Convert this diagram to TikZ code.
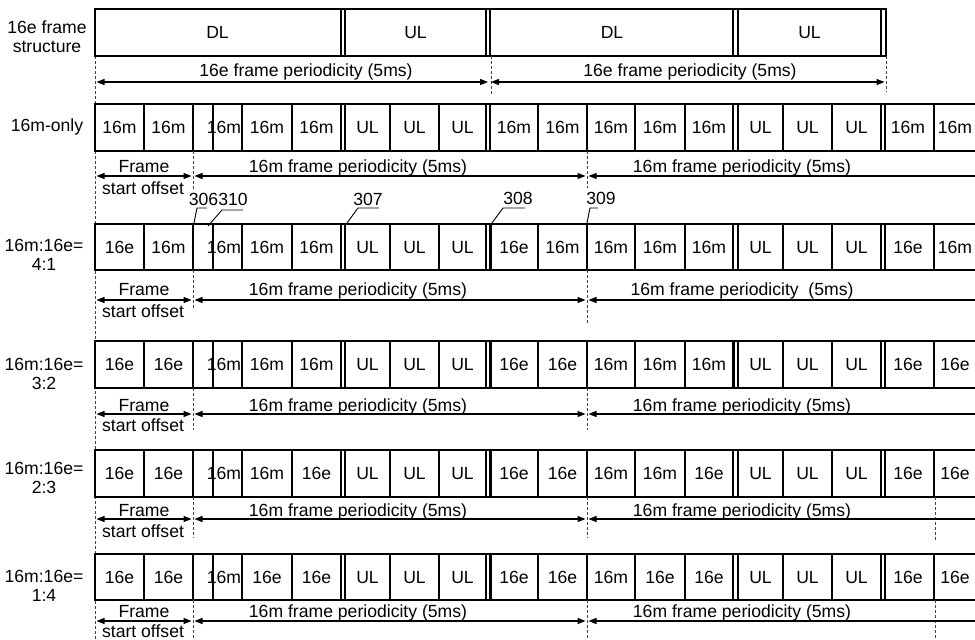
\documentclass[tikz,border=0pt]{standalone}
\usepackage{fontspec}
\setmainfont{Liberation Sans}
\usepackage{xcolor}
\definecolor{ColBlack}{RGB}{0,0,0}
\usepackage{tikz}
\usetikzlibrary{arrows.meta}
\tikzstyle{Txt}=[inner sep=0pt,font=\fontsize{17.6}{20}\selectfont,
    text height=12.6pt,text depth=0pt]
\tikzstyle{SideTxt}=[inner sep=0pt,font=\fontsize{17.6}{19}\selectfont,
    align=center]
\tikzstyle{Frame}=[ColBlack!100,draw,line width=1.2pt]
\tikzstyle{Guide}=[ColBlack!75,draw,line width=0.5pt,
    dash pattern=on 3pt off 2pt]
\tikzstyle{Leader}=[ColBlack!100,draw,line width=0.9pt]
\tikzstyle{Period}=[ColBlack!100,draw,line width=1.2pt,
    shorten <=1.5pt,shorten >=1.5pt,
    {Triangle[length=8pt,width=6pt]}-{Triangle[length=8pt,width=6pt]}]
% one row of slots: top, bottom, width of the bar before the second DL
\newcommand{\RowBox}[3]{%
    \draw[Frame](990,#1)--(95,#1)--(95,#2)--(990,#2);
    \foreach \Bx in {144,193,213,242,292,341,345,390,439,486,538,587,
        635,685,733,738,783,832,881,885,934}
        {\draw[Frame](\Bx,#1)--(\Bx,#2);}
    \draw[Frame,line width=#3](490,#1)--(490,#2);}
% slot texts: name, middle y, texts
\newcommand{\CellRow}[3]{%
    \foreach \Lab [count=\i from 0] in {#3}{
        \pgfmathsetmacro{\Cx}{{119.5,168.5,224,267,316.5,367.5,414.5,462.5,514,562.5,611,660,709,760.5,807.5,856.5,908,955}[\i]}
        \node[Txt](#1-\i)at(\Cx,#2){\Lab};}}
% offset and periodicity arrows: name, arrow y, upper text y, lower text y, second text
\newcommand{\PeriodRow}[5]{%
    \coordinate(#1a)at(95,#2);
    \coordinate(#1b)at(193,#2);
    \coordinate(#1c)at(587,#2);
    \coordinate(#1d)at(1000,#2);
    \draw[Period](#1a)--(#1b);
    \draw[Period](#1b)--(#1c);
    \draw[Period](#1c)--(#1d);
    \node[Txt](#1Fr)at(144,#3){Frame};
    \node[Txt](#1So)at(143,#4){start offset};
    \node[Txt](#1P1)at(358,#3){16m frame periodicity (5ms)};
    \node[Txt](#1P2)at(742,#3){#5};}
\newcommand{\Guides}[3]{%
    \draw[Guide](193,#1)--(193,#2);
    \draw[Guide](587,#1)--(587,#3);}

\begin{document}
\begin{tikzpicture}[x=1pt,y=-1pt]
    \useasboundingbox(0,0)rectangle(975,640);
    \clip(0,0)rectangle(975,640);
    \draw[Guide](95,56)--(95,640);
    % 16e frame structure
    \draw[Frame](95,9)rectangle(886,56);
    \foreach \Bx in {341,345,486,733,738,881}
        {\draw[Frame](\Bx,9)--(\Bx,56);}
    \draw[Frame,line width=1.8pt](490,9)--(490,56);
    \node[Txt](DL1)at(217.5,32.5){DL};
    \node[Txt](UL1)at(415.5,32.5){UL};
    \node[Txt](DL2)at(612,32.5){DL};
    \node[Txt](UL2)at(809.5,32.5){UL};
    \draw[Guide](491,56)--(491,95);
    \draw[Guide](886,56)--(886,92);
    \coordinate(Ea)at(95,82);
    \coordinate(Eb)at(489.5,82);
    \coordinate(Ec)at(886,82);
    \draw[Period](Ea)--(Eb);
    \draw[Period](Eb)--(Ec);
    \node[Txt](E1)at(306,70){16e frame periodicity (5ms)};
    \node[Txt](E2)at(690,70){16e frame periodicity (5ms)};
    % row labels
    \node[SideTxt](S0)at(47,37){16e frame\\structure};
    \node[SideTxt](S1)at(47,127){16m-only};
    \node[SideTxt](S2)at(44,255){16m:16e=\\4:1};
    \node[SideTxt](S3)at(44,374){16m:16e=\\3:2};
    \node[SideTxt](S4)at(44,478){16m:16e=\\2:3};
    \node[SideTxt](S5)at(44,586){16m:16e=\\1:4};
    % 16m-only
    \RowBox{104}{151}{1.8pt}
    \CellRow{R1}{127.5}{16m,16m,16m,16m,16m,UL,UL,UL,16m,16m,16m,16m,16m,UL,UL,UL,16m,16m}
    \Guides{151}{190}{188}
    \PeriodRow{R1}{176}{166}{188}{16m frame periodicity (5ms)}
    % 4:1
    \RowBox{224}{270}{3pt}
    \CellRow{R2}{247}{16e,16m,16m,16m,16m,UL,UL,UL,16e,16m,16m,16m,16m,UL,UL,UL,16e,16m}
    \Guides{270}{310}{323}
    \PeriodRow{R2}{300}{289}{311}{16m frame periodicity~ (5ms)}
    % 3:2
    \RowBox{341}{388}{3pt}
    \draw[Frame,line width=2.4pt](587,341)--(587,388);
    \draw[Frame,line width=2.4pt](734,341)--(734,388);
    \CellRow{R3}{364.5}{16e,16e,16m,16m,16m,UL,UL,UL,16e,16e,16m,16m,16m,UL,UL,UL,16e,16e}
    \Guides{388}{430}{430}
    \PeriodRow{R3}{414}{405}{425}{16m frame periodicity (5ms)}
    % 2:3
    \RowBox{450}{497}{3pt}
    \CellRow{R4}{473.5}{16e,16e,16m,16m,16e,UL,UL,UL,16e,16e,16m,16m,16e,UL,UL,UL,16e,16e}
    \Guides{497}{538}{538}
    \draw[Guide](935,497)--(935,542);
    \PeriodRow{R4}{519}{510}{531}{16m frame periodicity (5ms)}
    % 1:4
    \RowBox{554}{600}{3pt}
    \draw[Frame,line width=1.8pt](538,554)--(538,600);
    \CellRow{R5}{577}{16e,16e,16m,16e,16e,UL,UL,UL,16e,16e,16m,16e,16e,UL,UL,UL,16e,16e}
    \Guides{600}{640}{640}
    \draw[Guide](935,600)--(935,640);
    \PeriodRow{R5}{621}{611}{631}{16m frame periodicity (5ms)}
    % reference numerals
    \node[Txt](N306)at(203.5,199){306};
    \node[Txt](N310)at(233,199){310};
    \node[Txt](N307)at(368,199){307};
    \node[Txt](N308)at(518,198){308};
    \node[Txt](N309)at(601,198){309};
    \coordinate(P306)at(194,223);
    \coordinate(Q306)at(197,208);
    \coordinate(E306)at(207,208);
    \coordinate(P310)at(208,226);
    \coordinate(Q310)at(222,210);
    \coordinate(E310)at(243,210);
    \coordinate(P307)at(347,223);
    \coordinate(Q307)at(358,208);
    \coordinate(E307)at(379,208);
    \coordinate(P308)at(492,223);
    \coordinate(Q308)at(503,208);
    \coordinate(E308)at(525,208);
    \coordinate(P309)at(587,223);
    \coordinate(Q309)at(590,208);
    \coordinate(E309)at(598,208);
    \draw[Leader](P306)--(Q306)--(E306);
    \draw[Leader](P310)--(Q310)--(E310);
    \draw[Leader](P307)--(Q307)--(E307);
    \draw[Leader](P308)--(Q308)--(E308);
    \draw[Leader](P309)--(Q309)--(E309);
\end{tikzpicture}
\end{document}
